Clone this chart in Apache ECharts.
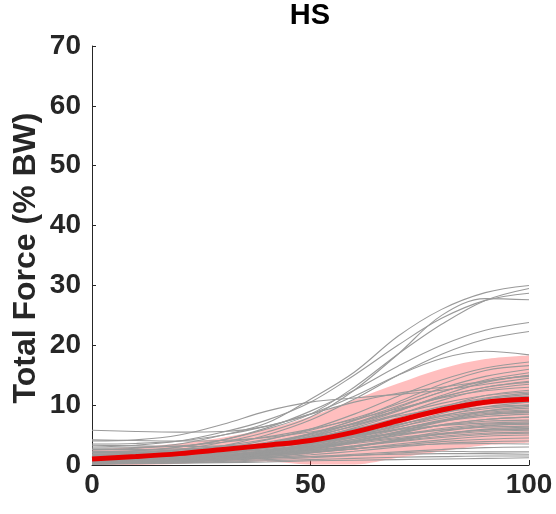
<!DOCTYPE html>
<html>
<head>
<meta charset="utf-8">
<title>HS</title>
<script src="https://cdn.jsdelivr.net/npm/echarts@6/dist/echarts.min.js"></script>
<style>
  html, body { margin: 0; padding: 0; background: #fff; }
  #chart { width: 556px; height: 514px; }
</style>
</head>
<body>
<div id="chart"></div>
<script>
// Percent of movement sampled every 10 %
const xPct = [0, 10, 20, 30, 40, 50, 60, 70, 80, 90, 100];

// Group mean total force (% BW) and mean ± SD envelope
const meanForce = [1.0, 1.4, 1.9, 2.6, 3.3, 4.1, 5.5, 7.4, 9.2, 10.5, 11.0];
const sdUpper   = [2.6, 3.0, 3.6, 4.6, 6.0, 8.1, 10.9, 13.6, 16.1, 17.7, 18.3];
const sdLower   = [0.0, 0.0, 0.2, 0.6, 0.6, 0.1, 0.1, 1.2, 2.3, 3.3, 3.7];

// Individual trials (% BW)
const trialForces = [
  [2.5, 2.8, 3.5, 5.0, 7.0, 11.0, 15.5, 21.5, 26.0, 28.8, 30.0],
  [2.0, 2.3, 3.0, 4.2, 6.0, 8.5, 13.0, 18.5, 23.5, 27.5, 29.5],
  [3.0, 3.3, 4.0, 5.5, 7.5, 10.5, 15.0, 20.0, 24.5, 27.5, 28.7],
  [1.8, 2.0, 2.6, 3.8, 5.5, 8.0, 12.5, 18.5, 25.0, 27.8, 27.6],
  [2.2, 2.4, 3.0, 4.2, 6.2, 9.0, 12.5, 16.5, 20.0, 22.5, 23.8],
  [1.5, 1.7, 2.2, 3.2, 5.0, 7.5, 11.0, 15.0, 18.5, 21.0, 22.3],
  [3.5, 3.6, 4.0, 5.0, 6.5, 8.5, 11.5, 15.0, 17.8, 19.0, 18.4],
  [4.0, 4.2, 5.0, 6.8, 9.0, 10.5, 11.2, 11.8, 12.5, 13.5, 14.5],
  [5.8, 5.6, 5.5, 5.6, 6.5, 8.5, 10.5, 12.0, 13.0, 14.0, 15.0],
  [1.2, 1.4, 1.9, 2.8, 4.2, 6.0, 8.5, 11.5, 14.2, 16.2, 17.2],
  [0.8, 1.0, 1.5, 2.3, 3.5, 5.2, 7.5, 10.5, 13.5, 15.8, 16.6],
  [2.0, 2.1, 2.5, 3.2, 4.3, 5.8, 7.8, 10.2, 12.8, 14.8, 16.0],
  [1.0, 1.2, 1.6, 2.4, 3.6, 5.3, 7.4, 9.8, 12.2, 14.2, 15.4],
  [0.6, 0.8, 1.2, 1.9, 3.0, 4.6, 6.6, 9.0, 11.6, 13.8, 15.0],
  [1.5, 1.6, 2.0, 2.7, 3.8, 5.2, 7.0, 9.2, 11.4, 13.0, 14.0],
  [0.9, 1.0, 1.3, 1.9, 2.9, 4.3, 6.2, 8.4, 10.8, 12.6, 13.5],
  [2.8, 2.9, 3.2, 3.8, 4.7, 6.0, 7.6, 9.4, 11.2, 12.4, 13.0],
  [0.5, 0.6, 0.9, 1.4, 2.2, 3.4, 5.0, 7.2, 9.6, 11.6, 12.5],
  [1.3, 1.4, 1.7, 2.3, 3.2, 4.4, 6.0, 7.9, 9.8, 11.2, 12.0],
  [0.7, 0.8, 1.1, 1.6, 2.4, 3.6, 5.2, 7.0, 9.0, 10.7, 11.5],
  [1.8, 1.9, 2.2, 2.7, 3.5, 4.6, 6.0, 7.6, 9.2, 10.4, 11.0],
  [0.4, 0.5, 0.8, 1.3, 2.1, 3.2, 4.6, 6.3, 8.2, 9.7, 10.5],
  [1.1, 1.2, 1.5, 2.0, 2.8, 3.8, 5.1, 6.7, 8.3, 9.4, 10.0],
  [2.3, 2.3, 2.5, 2.9, 3.5, 4.4, 5.5, 6.8, 8.1, 9.0, 9.5],
  [0.6, 0.7, 0.9, 1.3, 2.0, 3.0, 4.3, 5.9, 7.5, 8.6, 9.0],
  [1.4, 1.5, 1.7, 2.1, 2.8, 3.7, 4.8, 6.0, 7.3, 8.1, 8.5],
  [0.3, 0.4, 0.6, 1.0, 1.6, 2.5, 3.7, 5.2, 6.7, 7.6, 8.0],
  [1.0, 1.1, 1.3, 1.7, 2.3, 3.2, 4.3, 5.5, 6.6, 7.3, 7.5],
  [2.6, 2.6, 2.7, 3.0, 3.5, 4.2, 5.0, 5.9, 6.6, 7.0, 7.2],
  [0.8, 0.9, 1.1, 1.5, 2.0, 2.8, 3.8, 4.9, 5.9, 6.6, 6.8],
  [0.5, 0.6, 0.8, 1.1, 1.6, 2.3, 3.2, 4.2, 5.2, 6.0, 6.3],
  [1.6, 1.6, 1.8, 2.1, 2.5, 3.1, 3.8, 4.6, 5.3, 5.8, 6.0],
  [0.9, 1.0, 1.1, 1.4, 1.9, 2.5, 3.2, 4.0, 4.8, 5.3, 5.5],
  [0.4, 0.5, 0.7, 1.0, 1.4, 2.0, 2.7, 3.5, 4.2, 4.8, 5.0],
  [3.3, 3.2, 3.1, 3.2, 3.5, 4.0, 4.6, 5.2, 5.8, 6.3, 6.5],
  [4.2, 4.1, 4.0, 4.1, 4.6, 5.5, 6.8, 8.2, 9.4, 10.2, 10.5],
  [0.7, 0.8, 0.9, 1.2, 1.6, 2.1, 2.7, 3.3, 3.9, 4.3, 4.5],
  [0.3, 0.4, 0.5, 0.8, 1.2, 1.7, 2.3, 3.0, 3.6, 3.9, 4.0],
  [1.2, 1.2, 1.3, 1.5, 1.8, 2.2, 2.7, 3.2, 3.5, 3.6, 3.5],
  [0.5, 0.5, 0.6, 0.8, 1.1, 1.4, 1.8, 2.2, 2.6, 2.9, 3.0],
  [0.2, 0.3, 0.4, 0.6, 0.9, 1.2, 1.6, 2.0, 2.3, 2.2, 2.2],
  [0.8, 0.8, 0.9, 1.0, 1.2, 1.4, 1.6, 1.8, 1.9, 1.9, 1.8],
  [0.3, 0.3, 0.4, 0.5, 0.7, 0.9, 1.1, 1.3, 1.4, 1.5, 1.5],
  [0.1, 0.2, 0.3, 0.4, 0.5, 0.7, 0.8, 0.9, 1.0, 1.1, 1.2],
  [0.6, 0.7, 1.0, 1.5, 2.3, 3.5, 5.2, 7.3, 9.5, 11.0, 11.8],
  [1.1, 1.3, 1.7, 2.4, 3.4, 4.8, 6.5, 8.5, 10.3, 11.6, 12.2],
  [0.4, 0.5, 0.7, 1.1, 1.7, 2.6, 3.9, 5.5, 7.2, 8.4, 8.8],
  [1.7, 1.8, 2.1, 2.6, 3.4, 4.5, 5.9, 7.4, 8.8, 9.7, 10.0],
  [0.2, 0.3, 0.5, 0.8, 1.3, 2.0, 3.0, 4.3, 5.6, 6.5, 6.9],
  [0.9, 1.0, 1.2, 1.6, 2.2, 3.0, 4.1, 5.4, 6.7, 7.6, 8.0],
  [1.3, 1.4, 1.6, 2.0, 2.6, 3.5, 4.6, 6.0, 7.4, 8.4, 8.8],
  [0.5, 0.6, 0.8, 1.2, 1.8, 2.7, 3.8, 5.0, 6.1, 6.8, 7.0],
  [0.7, 0.8, 1.0, 1.3, 1.8, 2.4, 3.1, 3.9, 4.6, 5.1, 5.3],
  [2.1, 2.1, 2.3, 2.6, 3.1, 3.9, 5.0, 6.4, 7.8, 8.8, 9.2],
  [0.3, 0.4, 0.6, 0.9, 1.4, 2.1, 3.0, 4.1, 5.2, 5.9, 6.1],
  [1.0, 1.1, 1.3, 1.7, 2.4, 3.4, 4.8, 6.6, 8.6, 10.2, 11.0],
  [0.6, 0.7, 0.9, 1.3, 1.9, 2.8, 4.0, 5.6, 7.4, 9.0, 9.8],
  [1.5, 1.5, 1.6, 1.9, 2.3, 2.9, 3.6, 4.4, 5.1, 5.6, 5.8],
  [0.8, 1.0, 1.4, 2.1, 3.2, 4.8, 7.0, 9.6, 12.2, 14.0, 14.8],
  [1.2, 1.3, 1.7, 2.4, 3.5, 5.0, 6.9, 9.1, 11.3, 13.0, 13.8]
];

const yTicks = [0, 10, 20, 30, 40, 50, 60, 70];

const FONT = '"Liberation Sans", Arial, Helvetica, sans-serif';
const SMOOTH = 0.35;

const series = [];

// gray individual trial curves
trialForces.forEach((ys, k) => {
  series.push({
    name: 'trial' + (k + 1),
    type: 'line',
    data: ys,
    smooth: SMOOTH,
    showSymbol: false,
    silent: true,
    lineStyle: { color: '#9a9a9a', width: 1.1 }
  });
});

// mean ± SD band: transparent base plus stacked thickness
series.push({
  name: 'sdBase',
  type: 'line',
  data: sdLower,
  stack: 'sd',
  smooth: SMOOTH,
  showSymbol: false,
  silent: true,
  lineStyle: { opacity: 0 }
});
series.push({
  name: 'sdBand',
  type: 'line',
  data: sdUpper.map((u, i) => +(u - sdLower[i]).toFixed(2)),
  stack: 'sd',
  smooth: SMOOTH,
  showSymbol: false,
  silent: true,
  lineStyle: { opacity: 0 },
  areaStyle: { color: 'rgba(255, 40, 40, 0.3)', opacity: 1 }
});

// group mean
series.push({
  name: 'mean',
  type: 'line',
  data: meanForce,
  smooth: SMOOTH,
  showSymbol: false,
  silent: true,
  lineStyle: { color: '#e60000', width: 5 }
});

const chart = echarts.init(document.getElementById('chart'), null, { renderer: 'canvas' });
chart.setOption({
  animation: false,
  backgroundColor: '#ffffff',
  title: {
    text: 'HS',
    left: 310,
    top: 1,
    padding: 0,
    textAlign: 'center',
    textStyle: { fontFamily: FONT, fontWeight: 'bold', fontSize: 29, color: '#000' }
  },
  grid: { left: 92, right: 27, top: 46, bottom: 49, containLabel: false },
  xAxis: {
    type: 'category',
    data: xPct,
    boundaryGap: false,
    axisLine: { show: true, lineStyle: { color: '#262626', width: 1 } },
    axisTick: { show: true, inside: true, length: 5, interval: 4, lineStyle: { color: '#262626', width: 1 } },
    splitLine: { show: false },
    axisLabel: {
      interval: 4,
      margin: 6,
      fontFamily: FONT, fontWeight: 'bold', fontSize: 28, color: '#262626'
    }
  },
  yAxis: {
    type: 'value',
    min: yTicks[0],
    max: yTicks[yTicks.length - 1],
    interval: yTicks[1] - yTicks[0],
    axisLine: { show: true, lineStyle: { color: '#262626', width: 1 } },
    axisTick: { show: true, inside: true, length: 4, lineStyle: { color: '#262626', width: 1 } },
    splitLine: { show: false },
    axisLabel: {
      margin: 11,
      fontFamily: FONT, fontWeight: 'bold', fontSize: 28, color: '#262626'
    }
  },
  graphic: [{
    type: 'text',
    x: 26,
    y: 258,
    rotation: Math.PI / 2,
    style: {
      text: 'Total Force (% BW)',
      fontFamily: FONT,
      fontWeight: 'bold',
      fontSize: 32,
      fill: '#262626',
      align: 'center',
      verticalAlign: 'middle'
    }
  }],
  series: series
});
</script>
</body>
</html>
